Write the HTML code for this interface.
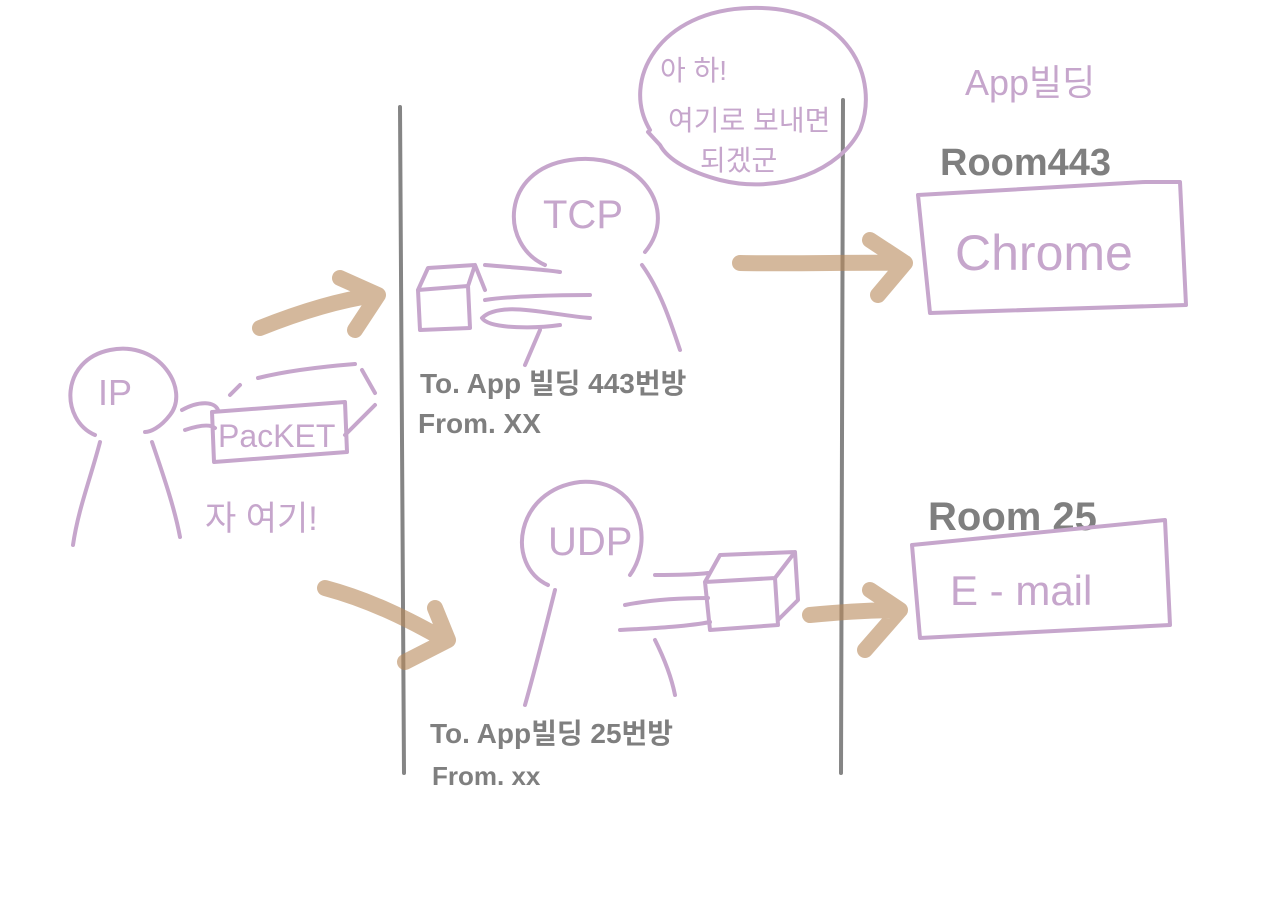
<!DOCTYPE html>
<html><head><meta charset="utf-8"><style>
html,body{margin:0;padding:0;background:#fff;width:1280px;height:904px;overflow:hidden}
svg{display:block}
.p{fill:none;stroke:#c6a6cc;stroke-width:4;stroke-linecap:round;stroke-linejoin:round}
.g{fill:none;stroke:#858585;stroke-width:4;stroke-linecap:round}
.b{fill:none;stroke:#b8895a;stroke-opacity:0.6;stroke-width:16;stroke-linecap:round;stroke-linejoin:round}
.tp{fill:#c6a6cc;font-family:"Liberation Sans","Noto Sans CJK KR",sans-serif}
.tg{fill:#7f7f7f;font-family:"Liberation Sans","Noto Sans CJK KR",sans-serif}
</style></head><body>
<svg width="1280" height="904" viewBox="0 0 1280 904">
<!-- vertical lines -->
<path class="g" d="M400 107 L404 773"/>
<path class="g" d="M843 100 L841 773"/>

<!-- IP person -->
<path class="p" d="M95 435 C60 420 60 360 110 350 C160 340 190 390 170 415 C160 428 150 432 145 432"/>
<path class="p" d="M100 442 C90 480 78 510 73 545"/>
<path class="p" d="M152 442 C165 480 175 510 180 537"/>
<text class="tp" x="98" y="405" font-size="36">IP</text>
<!-- packet -->
<path class="p" d="M182 410 C200 400 215 402 218 410 M185 430 C200 425 210 424 215 428"/>
<path class="p" d="M212 412 L345 402 L347 452 L214 462 Z"/>
<path class="p" d="M258 378 C290 370 330 366 355 364 M230 395 L240 385 M362 370 L375 393 M345 435 L375 405"/>
<text class="tp" x="218" y="447" font-size="32">PacKET</text>
<text class="tp" x="205" y="530" font-size="34">자 여기!</text>

<!-- arrows left -->
<path class="b" d="M260 328 C300 312 340 300 375 295 M340 278 L378 295 L355 330"/>
<path class="b" d="M325 588 C370 600 410 620 445 640 M435 608 L448 640 L405 662"/>

<!-- TCP person -->
<path class="p" d="M545 265 C500 245 500 170 570 160 C640 150 680 210 645 252"/>
<text class="tp" x="543" y="228" font-size="40">TCP</text>
<path class="p" d="M642 265 C660 290 670 320 680 350"/>
<path class="p" d="M540 330 L525 365"/>
<path class="p" d="M418 290 L468 286 L470 328 L420 330 Z M418 290 L428 268 L475 265 L468 286 M475 265 L485 290"/>
<path class="p" d="M485 265 C520 268 550 270 560 272 M485 300 C510 296 560 295 590 295 M482 318 C500 300 550 315 590 318 M482 318 C490 330 540 328 560 325"/>

<!-- speech bubble -->
<path class="p" d="M650 130 C620 80 660 10 750 8 C850 5 880 80 860 130 C840 170 780 195 720 180 C690 172 668 160 660 145 L648 132"/>
<text class="tp" x="660" y="80" font-size="28">아 하!</text>
<text class="tp" x="668" y="130" font-size="28">여기로 보내면</text>
<text class="tp" x="700" y="170" font-size="28">되겠군</text>

<!-- arrow to chrome -->
<path class="b" d="M740 263 C800 264 860 262 905 263 M870 240 L905 263 L878 295"/>

<text class="tp" x="965" y="95" font-size="36">App빌딩</text>
<text class="tg" x="940" y="175" font-size="38" font-weight="bold">Room443</text>
<path class="p" d="M918 195 L1145 182 L1180 182 L1186 305 L930 313 Z"/>
<text class="tp" x="955" y="270" font-size="50">Chrome</text>

<!-- gray labels TCP -->
<text class="tg" x="420" y="393" font-size="28" font-weight="bold">To. App 빌딩 443번방</text>
<text class="tg" x="418" y="433" font-size="28" font-weight="bold">From. XX</text>

<!-- UDP person -->
<path class="p" d="M548 585 C505 565 515 490 580 482 C640 478 655 540 630 575"/>
<text class="tp" x="548" y="555" font-size="40">UDP</text>
<path class="p" d="M555 590 C545 630 535 670 525 705"/>
<path class="p" d="M655 640 C665 660 672 680 675 695"/>
<path class="p" d="M705 582 L775 578 L778 625 L710 630 Z M705 582 L720 555 L795 552 L775 578 M795 552 L798 600 L778 620"/>
<path class="p" d="M655 575 C680 575 700 574 708 573 M625 605 C650 600 680 598 708 598 M620 630 C660 628 690 626 710 622"/>

<text class="tg" x="430" y="743" font-size="28" font-weight="bold">To. App빌딩 25번방</text>
<text class="tg" x="432" y="785" font-size="26" font-weight="bold">From. xx</text>

<!-- arrow to email -->
<path class="b" d="M810 615 C840 612 870 610 900 610 M870 590 L900 610 L865 650"/>

<text class="tg" x="928" y="530" font-size="40" font-weight="bold">Room 25</text>
<path class="p" d="M912 545 L1165 520 L1170 625 L920 638 Z"/>
<text class="tp" x="950" y="605" font-size="42">E - mail</text>
</svg>
</body></html>
